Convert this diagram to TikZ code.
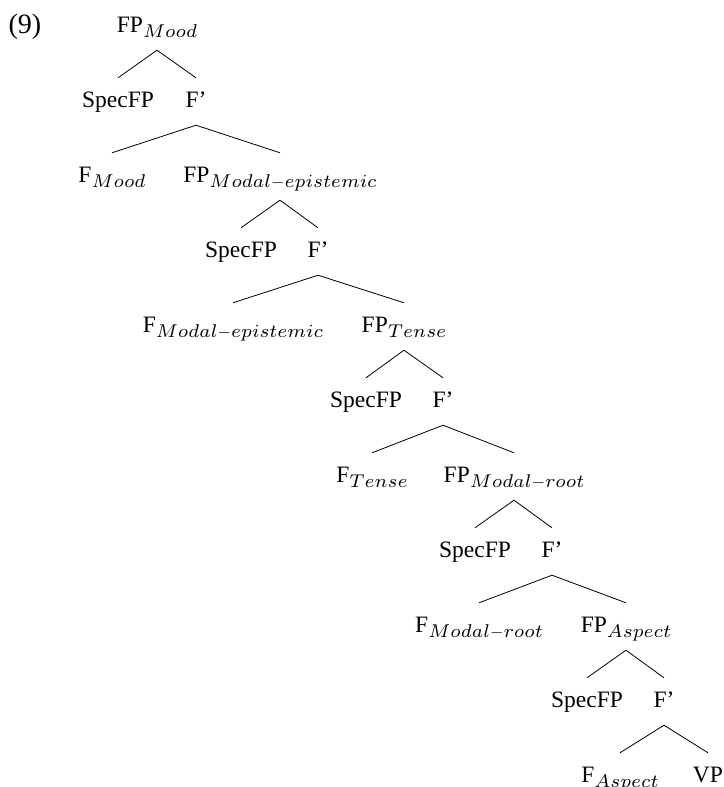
\documentclass[tikz,border=0pt]{standalone}
\usepackage{fontspec}
\setmainfont{Liberation Serif}
\DeclareFontShape{OML}{cmm}{m}{it}{<->cmmi7}{\skewchar\font=127 }
\newcommand{\subs}[1]{\raisebox{-5.5pt}{\fontsize{18.5}{22}\selectfont$#1$}}
\begin{document}
\begin{tikzpicture}[x=1pt,y=-1pt,
  lbl/.style={inner sep=0pt,text height=29pt,text depth=18pt,anchor=base,font=\fontsize{23.5}{28}\selectfont},
  br/.style={line width=0.8pt}]
\useasboundingbox (0,0) rectangle (723,787);
\node[lbl,font=\fontsize{28}{32}\selectfont] (ex) at (25,33) {(9)};
% row 0
\node[lbl] (fp0) at (157,32) {FP\subs{Mood}};
% row 1
\node[lbl] (s0) at (118,107) {SpecFP};
\node[lbl] (f0) at (196,107) {F’};
% row 2
\node[lbl] (h0) at (112,182) {F\subs{Mood}};
\node[lbl] (fp1) at (280,182) {FP\subs{Modal{-}epistemic}};
% row 3
\node[lbl] (s1) at (241,257) {SpecFP};
\node[lbl] (f1) at (318,257) {F’};
% row 4
\node[lbl] (h1) at (233,332) {F\subs{Modal{-}epistemic}};
\node[lbl] (fp2) at (404,332) {FP\subs{Tense}};
% row 5
\node[lbl] (s2) at (366,407) {SpecFP};
\node[lbl] (f2) at (443,407) {F’};
% row 6
\node[lbl] (h2) at (372,482) {F\subs{Tense}};
\node[lbl] (fp3) at (514,482) {FP\subs{Modal{-}root}};
% row 7
\node[lbl] (s3) at (475,557) {SpecFP};
\node[lbl] (f3) at (552,557) {F’};
% row 8
\node[lbl] (h3) at (479,632) {F\subs{Modal{-}root}};
\node[lbl] (fp4) at (626,632) {FP\subs{Aspect}};
% row 9
\node[lbl] (s4) at (587,707) {SpecFP};
\node[lbl] (f4) at (664,707) {F’};
% row 10
\node[lbl] (h4) at (620,782) {F\subs{Aspect}};
\node[lbl] (vp) at (708,782) {VP};
% branches
\foreach \p/\a/\b in {fp0/s0/f0, f0/h0/fp1, fp1/s1/f1, f1/h1/fp2, fp2/s2/f2, f2/h2/fp3, fp3/s3/f3, f3/h3/fp4, fp4/s4/f4, f4/h4/vp}{
  \draw[br] (\p.south) -- (\a.north);
  \draw[br] (\p.south) -- (\b.north);
}
\end{tikzpicture}
\end{document}
